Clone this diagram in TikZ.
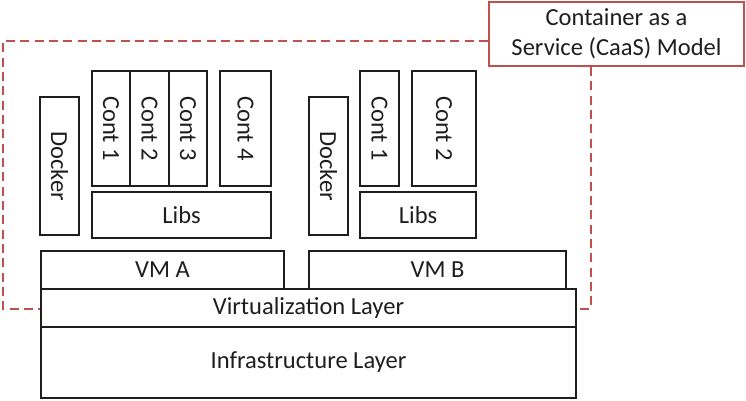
\documentclass[tikz,border=0pt]{standalone}
\usepackage{fontspec}
\setmainfont{Carlito}
\definecolor{caasred}{RGB}{192,80,77}
\definecolor{boxline}{RGB}{30,30,30}

\begin{document}
\begin{tikzpicture}[x=0.75pt,y=0.75pt,yscale=-1,xscale=1,
  layer/.style={draw=boxline,line width=1.8pt,rectangle,inner sep=0pt,text=boxline,font=\fontsize{18.4}{22}\selectfont},
  upright/.style={layer,rotate=-90}]
\useasboundingbox (0,0) rectangle (746,400);
%Infrastructure
\node (infra) at (308.5,362.5) [layer,minimum width=401.25pt,minimum height=53.25pt] {Infrastructure Layer};
\node (virt) at (308.5,308) [layer,minimum width=401.25pt,minimum height=28.5pt] {Virtualization Layer};
%VMs
\node (vmA) at (162.5,270) [layer,minimum width=182.25pt,minimum height=28.5pt] {VM A};
\node (vmB) at (437.5,270) [layer,minimum width=192.75pt,minimum height=28.5pt] {VM B};
%Libs
\node (libsA) at (181.5,215) [layer,minimum width=134.25pt,minimum height=34.5pt] {Libs};
\node (libsB) at (418,215) [layer,minimum width=87pt,minimum height=34.5pt] {Libs};
%Docker
\node (dockerA) at (59.5,166) [upright,minimum width=103.5pt,minimum height=29.25pt] {Docker};
\node (dockerB) at (328.5,166) [upright,minimum width=103.5pt,minimum height=29.25pt] {Docker};
%Containers of VM A
\node (contA1) at (111,128.5) [upright,minimum width=86.25pt,minimum height=28.5pt] {Cont 1};
\node (contA2) at (149.5,128.5) [upright,minimum width=86.25pt,minimum height=29.25pt] {Cont 2};
\node (contA3) at (188,128.5) [upright,minimum width=86.25pt,minimum height=28.5pt] {Cont 3};
\node (contA4) at (245.5,128.5) [upright,minimum width=86.25pt,minimum height=38.25pt] {Cont 4};
%Containers of VM B
\node (contB1) at (379.5,128.5) [upright,minimum width=86.25pt,minimum height=29.25pt] {Cont 1};
\node (contB2) at (444,128.5) [upright,minimum width=86.25pt,minimum height=48pt] {Cont 2};
%CaaS label
\node (caas) at (616.5,34) [draw=caasred,line width=1.5pt,text=boxline,minimum width=191.25pt,minimum height=48pt,align=center,font=\fontsize{18.4}{22.5}\selectfont] {Container as a\\Service (CaaS) Model};
%Dashed region
\draw [caasred,line width=1.5pt,dash pattern=on 6.75pt off 4pt] (caas.west |- 0,41) -- (3,41) -- (3,309) -- (virt.west |- 0,309);
\draw [caasred,line width=1.5pt,dash pattern=on 6.75pt off 4pt] (591,0 |- caas.south) -- (591,309) -- (virt.east |- 0,309);
\end{tikzpicture}
\end{document}
